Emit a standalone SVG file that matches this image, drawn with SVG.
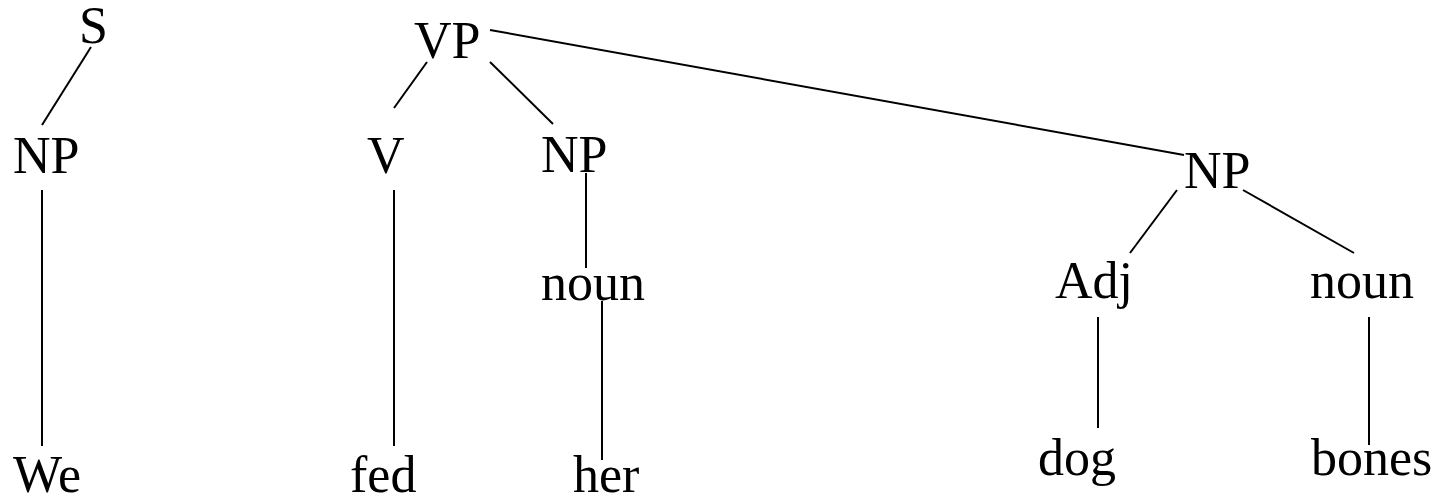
<svg xmlns="http://www.w3.org/2000/svg" width="1447" height="498" viewBox="0 0 1447 498">
<style>
text{font-family:"Liberation Serif","Times New Roman",serif;font-size:52px;fill:#000}
line{stroke:#000;stroke-width:2}
</style>
<rect width="1447" height="498" fill="#fff"/>
<g id="connectors">
<line x1="91" y1="47" x2="42" y2="125"/>
<line x1="42" y1="190" x2="42" y2="446"/>
<line x1="427" y1="62" x2="394" y2="108"/>
<line x1="394" y1="190" x2="394" y2="446"/>
<line x1="490" y1="62" x2="553" y2="124"/>
<line x1="586" y1="173" x2="586" y2="268"/>
<line x1="602" y1="301" x2="602" y2="460"/>
<line x1="490" y1="30" x2="1184" y2="155"/>
<line x1="1177" y1="190" x2="1130" y2="253"/>
<line x1="1243" y1="190" x2="1354" y2="253"/>
<line x1="1098" y1="317" x2="1098" y2="428"/>
<line x1="1369" y1="317" x2="1369" y2="445"/>
</g>
<g id="S"><text x="79" y="43">S</text></g>
<g id="NP1"><text x="13" y="173">NP</text></g>
<g id="We"><text x="13" y="492">We</text></g>
<g id="VP"><text x="414" y="58">VP</text></g>
<g id="V"><text x="367" y="173">V</text></g>
<g id="fed"><text x="350" y="492">fed</text></g>
<g id="NP2"><text x="541" y="172">NP</text></g>
<g id="noun1"><text x="541" y="300">noun</text></g>
<g id="her"><text x="573" y="492">her</text></g>
<g id="NP3"><text x="1184" y="188">NP</text></g>
<g id="Adj"><text x="1055" y="298">Adj</text></g>
<g id="noun2"><text x="1310" y="298">noun</text></g>
<g id="dog"><text x="1038" y="475">dog</text></g>
<g id="bones"><text x="1311" y="475">bones</text></g>
</svg>
